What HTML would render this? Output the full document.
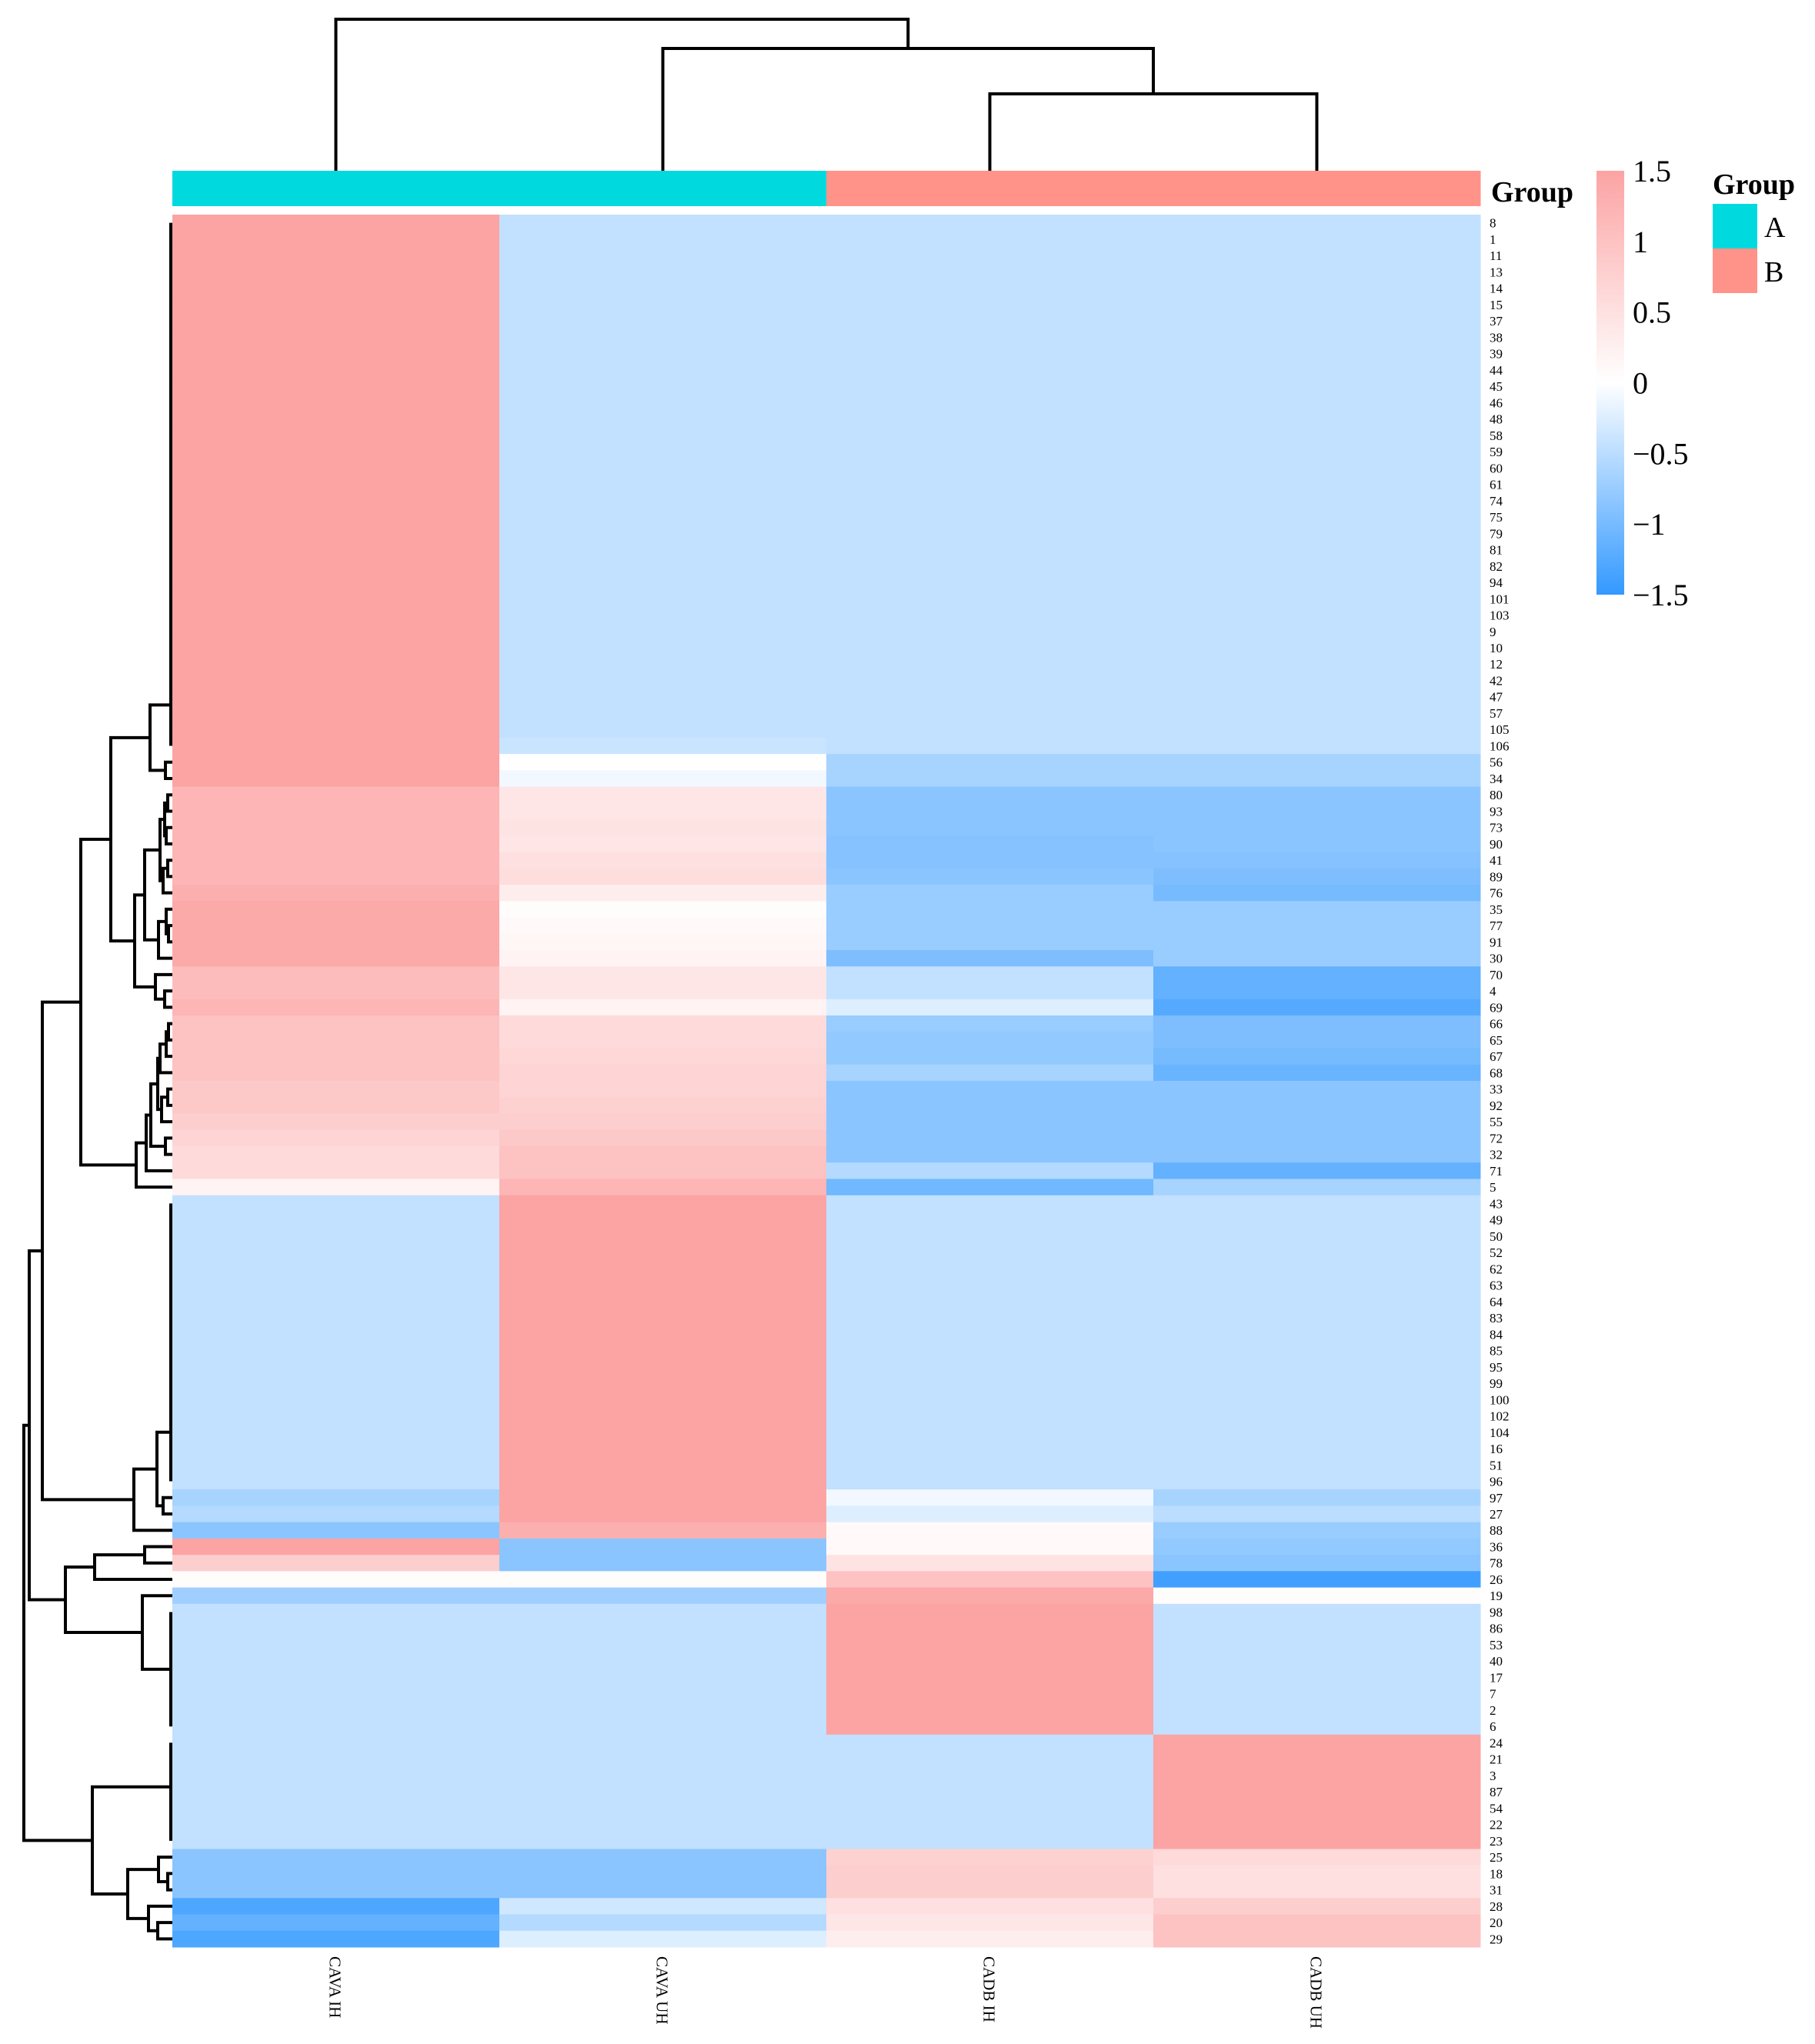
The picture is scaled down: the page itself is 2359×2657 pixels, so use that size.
<!DOCTYPE html>
<html><head><meta charset="utf-8"><style>
html,body{margin:0;padding:0;background:#fff;}
svg{display:block;font-family:"Liberation Serif",serif;}
</style></head><body>
<svg id="chart" width="2359" height="2657" viewBox="0 0 2359 2657" xmlns="http://www.w3.org/2000/svg">
<defs><linearGradient id="cbar" x1="0" y1="0" x2="0" y2="1">
<stop offset="0" stop-color="#fca3a3"/><stop offset="0.5" stop-color="#ffffff"/><stop offset="1" stop-color="#3399ff"/></linearGradient></defs>
<g id="dend-col"></g>
<g id="dend-row"></g>
<g id="annot"></g>
<g id="cells"></g>
<g id="rowlabels"></g>
<g id="collabels"></g>
<text x="1938" y="262" font-size="38" font-weight="bold">Group</text>
<rect x="2075" y="222" width="36" height="551" fill="url(#cbar)"/>
<g id="cbticks" font-size="40"></g>
<g>
<text x="2226" y="252" font-size="38" font-weight="bold">Group</text>
<rect x="2226" y="265" width="58" height="58" fill="#00dadf"/>
<text x="2293" y="308" font-size="38">A</text>
<rect x="2226" y="323" width="58" height="58" fill="#ff938a"/>
<text x="2293" y="366" font-size="38">B</text>
</g>
</svg>
<script>
const columns = ["CAVA IH","CAVA UH","CADB IH","CADB UH"];
const groups = ["A","A","B","B"];
const rowNames = ["8","1","11","13","14","15","37","38","39","44","45","46","48","58","59","60","61","74","75","79","81","82","94","101","103","9","10","12","42","47","57","105","106","56","34","80","93","73","90","41","89","76","35","77","91","30","70","4","69","66","65","67","68","33","92","55","72","32","71","5","43","49","50","52","62","63","64","83","84","85","95","99","100","102","104","16","51","96","97","27","88","36","78","26","19","98","86","53","40","17","7","2","6","24","21","3","87","54","22","23","25","18","31","28","20","29"];
const colCavaIH = [1.5,1.5,1.5,1.5,1.5,1.5,1.5,1.5,1.5,1.5,1.5,1.5,1.5,1.5,1.5,1.5,1.5,1.5,1.5,1.5,1.5,1.5,1.5,1.5,1.5,1.5,1.5,1.5,1.5,1.5,1.5,1.5,1.5,1.5,1.5,1.2,1.2,1.2,1.2,1.2,1.2,1.3,1.4,1.4,1.4,1.4,1.1,1.1,1.2,1.0,1.0,1.0,1.0,0.9,0.9,0.8,0.7,0.6,0.6,0.2,-0.45,-0.45,-0.45,-0.45,-0.45,-0.45,-0.45,-0.45,-0.45,-0.45,-0.45,-0.45,-0.45,-0.45,-0.45,-0.45,-0.45,-0.45,-0.65,-0.55,-0.85,1.5,0.8,0.05,-0.7,-0.45,-0.45,-0.45,-0.45,-0.45,-0.45,-0.45,-0.45,-0.45,-0.45,-0.45,-0.45,-0.45,-0.45,-0.45,-0.85,-0.85,-0.85,-1.3,-1.15,-1.3];
const colCavaUH = [-0.45,-0.45,-0.45,-0.45,-0.45,-0.45,-0.45,-0.45,-0.45,-0.45,-0.45,-0.45,-0.45,-0.45,-0.45,-0.45,-0.45,-0.45,-0.45,-0.45,-0.45,-0.45,-0.45,-0.45,-0.45,-0.45,-0.45,-0.45,-0.45,-0.45,-0.45,-0.45,-0.4,0.0,-0.1,0.4,0.4,0.45,0.4,0.5,0.55,0.3,0.05,0.1,0.15,0.2,0.4,0.4,0.2,0.6,0.6,0.65,0.7,0.7,0.75,0.8,0.9,1.0,1.0,1.2,1.5,1.5,1.5,1.5,1.5,1.5,1.5,1.5,1.5,1.5,1.5,1.5,1.5,1.5,1.5,1.5,1.5,1.5,1.5,1.5,1.3,-0.85,-0.85,0.05,-0.7,-0.45,-0.45,-0.45,-0.45,-0.45,-0.45,-0.45,-0.45,-0.45,-0.45,-0.45,-0.45,-0.45,-0.45,-0.45,-0.85,-0.85,-0.85,-0.35,-0.55,-0.25];
const colCadbIH = [-0.45,-0.45,-0.45,-0.45,-0.45,-0.45,-0.45,-0.45,-0.45,-0.45,-0.45,-0.45,-0.45,-0.45,-0.45,-0.45,-0.45,-0.45,-0.45,-0.45,-0.45,-0.45,-0.45,-0.45,-0.45,-0.45,-0.45,-0.45,-0.45,-0.45,-0.45,-0.45,-0.45,-0.65,-0.65,-0.85,-0.85,-0.85,-0.9,-0.9,-0.85,-0.75,-0.75,-0.75,-0.75,-0.95,-0.45,-0.45,-0.25,-0.75,-0.8,-0.8,-0.65,-0.85,-0.85,-0.85,-0.85,-0.85,-0.55,-1.05,-0.45,-0.45,-0.45,-0.45,-0.45,-0.45,-0.45,-0.45,-0.45,-0.45,-0.45,-0.45,-0.45,-0.45,-0.45,-0.45,-0.45,-0.45,-0.1,-0.25,0.1,0.1,0.45,1.0,1.4,1.5,1.5,1.5,1.5,1.5,1.5,1.5,1.5,-0.45,-0.45,-0.45,-0.45,-0.45,-0.45,-0.45,0.75,0.8,0.8,0.5,0.4,0.3];
const colCadbUH = [-0.45,-0.45,-0.45,-0.45,-0.45,-0.45,-0.45,-0.45,-0.45,-0.45,-0.45,-0.45,-0.45,-0.45,-0.45,-0.45,-0.45,-0.45,-0.45,-0.45,-0.45,-0.45,-0.45,-0.45,-0.45,-0.45,-0.45,-0.45,-0.45,-0.45,-0.45,-0.45,-0.45,-0.65,-0.65,-0.85,-0.85,-0.85,-0.85,-0.9,-0.95,-1.0,-0.75,-0.75,-0.75,-0.75,-1.15,-1.15,-1.25,-0.95,-0.95,-1.0,-1.1,-0.85,-0.85,-0.85,-0.85,-0.85,-1.15,-0.65,-0.45,-0.45,-0.45,-0.45,-0.45,-0.45,-0.45,-0.45,-0.45,-0.45,-0.45,-0.45,-0.45,-0.45,-0.45,-0.45,-0.45,-0.45,-0.65,-0.5,-0.75,-0.8,-0.85,-1.4,0.05,-0.45,-0.45,-0.45,-0.45,-0.45,-0.45,-0.45,-0.45,1.5,1.5,1.5,1.5,1.5,1.5,1.5,0.6,0.5,0.5,0.8,1.0,1.0];
const seriesCols = [colCavaIH,colCavaUH,colCadbIH,colCadbUH];
const cbTickValues = [1.5,1,0.5,0,-0.5,-1,-1.5];
const cbTickLabels = ["1.5","1","0.5","0","\u22120.5","\u22121","\u22121.5"];

const NS="http://www.w3.org/2000/svg";
const X0=224, X1=1924, Y0=279, Y1=2531;
const cw=(X1-X0)/columns.length, rh=(Y1-Y0)/rowNames.length;
const xCol=i=>X0+cw*i, yRow=i=>Y0+rh*i;
const cbY=v=>222+(1.5-v)/3*551;
function color(v){
  const t=Math.min(1,Math.abs(v)/1.5);
  const c=v>=0?[252,163,163]:[51,153,255];
  const r=Math.round(255+(c[0]-255)*t),g=Math.round(255+(c[1]-255)*t),b=Math.round(255+(c[2]-255)*t);
  return `rgb(${r},${g},${b})`;
}
function mk(tag,attrs,parent){const e=document.createElementNS(NS,tag);for(const k in attrs)e.setAttribute(k,attrs[k]);parent.appendChild(e);return e;}

const cells=document.getElementById('cells');
seriesCols.forEach((col,ci)=>{col.forEach((v,ri)=>{
  const r=mk('rect',{x:xCol(ci),y:yRow(ri),width:cw+0.5,height:rh+0.5,fill:color(v)},cells);
  
  
});});

const rl=document.getElementById('rowlabels');
rowNames.forEach((n,i)=>{
  const t=mk('text',{x:1936,y:yRow(i)+rh/2+6,'font-size':17},rl);t.textContent=n;
  
  
});
const cl=document.getElementById('collabels');
columns.forEach((n,i)=>{
  const cx=xCol(i)+cw/2-8;
  const t=mk('text',{x:cx,y:2543,'font-size':21,transform:`rotate(90 ${cx} 2543)`},cl);t.textContent=n;
  
  
});
const an=document.getElementById('annot');
groups.forEach((g,i)=>{
  const r=mk('rect',{x:xCol(i),y:222,width:cw+0.5,height:46,fill:g==='A'?'#00dadf':'#ff938a'},an);
  
  
});
const cb=document.getElementById('cbticks');
cbTickValues.forEach((v,i)=>{
  const t=mk('text',{x:2122,y:cbY(v)+14},cb);t.textContent=cbTickLabels[i];
  
  
});

// column dendrogram
const cd=document.getElementById('dend-col');
const colTree=[25,0,[63,1,[122,2,3]]];
function drawCol(n){
  if(typeof n==='number') return {x:xCol(n)+cw/2,y:222};
  const a=drawCol(n[1]),b=drawCol(n[2]);
  const p=mk('path',{d:`M${a.x},${a.y}V${n[0]}H${b.x}V${b.y}`,fill:'none',stroke:'#000','stroke-width':4},cd);
  
  
  return {x:(a.x+b.x)/2,y:n[0]};
}
drawCol(colTree);

// row dendrogram
const rd=document.getElementById('dend-row');
const F=(a,b,anc)=>({range:[a,b],anchor:anc});
const tree=[31,
 [38,
  [55,
   [105,
    [144,[195,F(0,32,29.5),[215,33,34]],
     [175,[188,[208,[214,[218,35,36],[216,37,38]],[212,[218,39,40],41]],[206,[216,42,[219,43,44]],45]],[202,46,[214,47,48]]]],
    [177,[190,[196,[205,[208,[216,[219,49,50],51],52],[210,[218,53,54],55]],[215,56,57]],58],59]],
   [174,[204,F(60,77,74),[212,78,79]],80]],
  [85,[123,[188,81,82],83],[185,84,F(85,92,88.5)]]],
 [120,F(93,99,95.7),[166,[206,100,[218,101,102]],[193,103,[205,104,105]]]]];
function drawRow(n){
  if(typeof n==='number') return {x:X0,y:yRow(n)+rh/2};
  if(!Array.isArray(n)){
    const y0=yRow(n.range[0])+rh/2,y1=yRow(n.range[1])+rh/2;
    const p=mk('path',{d:`M${X0-2},${y0}V${y1}`,fill:'none',stroke:'#000','stroke-width':4},rd);
    
    
    return {x:X0-2,y:yRow(n.anchor)+rh/2};
  }
  const a=drawRow(n[1]),b=drawRow(n[2]);
  const p=mk('path',{d:`M${a.x},${a.y}H${n[0]}V${b.y}H${b.x}`,fill:'none',stroke:'#000','stroke-width':4},rd);
  
  
  return {x:n[0],y:(a.y+b.y)/2};
}
drawRow(tree);
</script>
</body></html>
